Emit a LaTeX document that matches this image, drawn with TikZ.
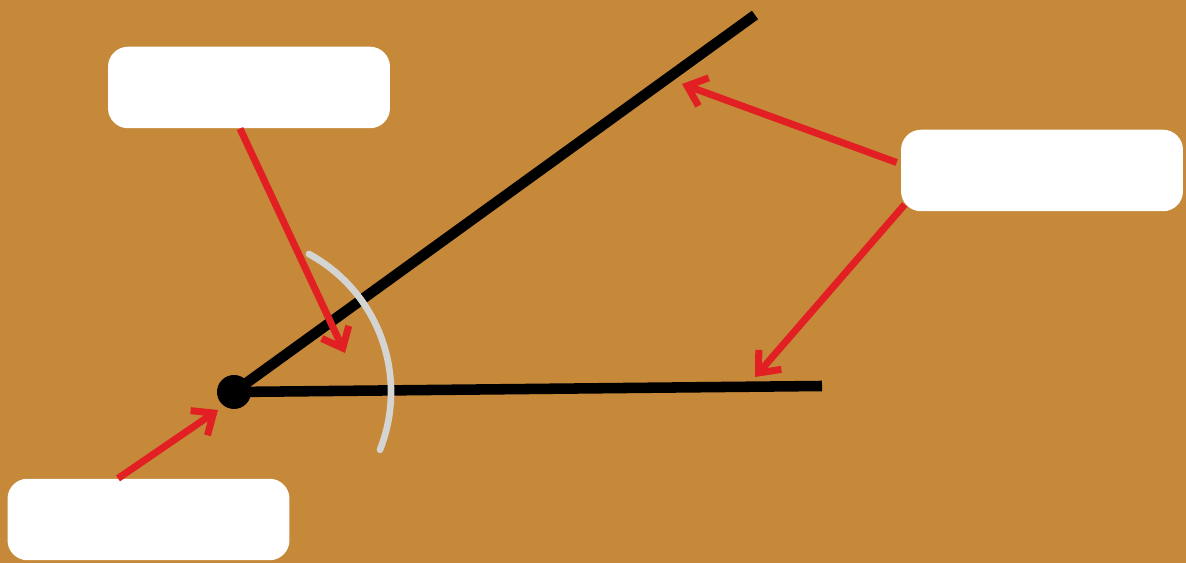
\documentclass[tikz,border=0pt]{standalone}
\usepackage{xcolor}
\usepackage{tikz}
\usetikzlibrary{arrows.meta,positioning}

\definecolor{board}{RGB}{198,137,58}
\definecolor{pointer}{RGB}{226,32,36}
\definecolor{chalk}{RGB}{212,212,210}

\begin{document}
\begin{tikzpicture}[x=0.02cm, y=0.02cm,
		labelbox/.style={fill=white, rounded corners=0.4cm, minimum width=5.64cm, minimum height=1.63cm, inner sep=0pt},
		ray/.style={line width=6pt},
		pointarrow/.style={pointer, line width=4pt, -{Straight Barb[length=10pt, width=17pt, line width=4pt]}}]
		\fill[board] (0,0) rectangle (1186,563);
		\useasboundingbox (0,0) rectangle (1186,563);

		% angle
		\node[fill=black, circle, minimum size=0.68cm, inner sep=0pt] (vertex) at (234,171) {};
		\coordinate (armup) at (755,548);
		\coordinate (armside) at (822,177);
		\draw[ray] (vertex.center) -- (armup);
		\draw[ray] (vertex.center) -- (armside);
		\draw[chalk, line width=3.8pt, line cap=round] ([shift={(61.5:157)}]vertex.center) arc[start angle=61.5, end angle=-21.6, radius=157];

		% empty label boxes
		\node[labelbox] (anglebox) at (249,475.5) {};
		\node[labelbox] (armbox) at (1042,392.5) {};
		\node[labelbox] (vertexbox) at (148.5,43.5) {};

		% arrow tips
		\coordinate (tipangle) at (345,210);
		\coordinate (tipup) at (682,479);
		\coordinate (tipside) at (755,186);
		\coordinate (tipvertex) at (218,153);

		\draw[pointarrow] ([xshift=-0.18cm]anglebox.south) -- (tipangle);
		\draw[pointarrow] ([xshift=-0.08cm, yshift=0.16cm]armbox.west) -- (tipup);
		\draw[pointarrow] ([xshift=0.08cm, yshift=0.14cm]armbox.south west) -- (tipside);
		\draw[pointarrow] ([xshift=-0.61cm]vertexbox.north) -- (tipvertex);
	\end{tikzpicture}
\end{document}
